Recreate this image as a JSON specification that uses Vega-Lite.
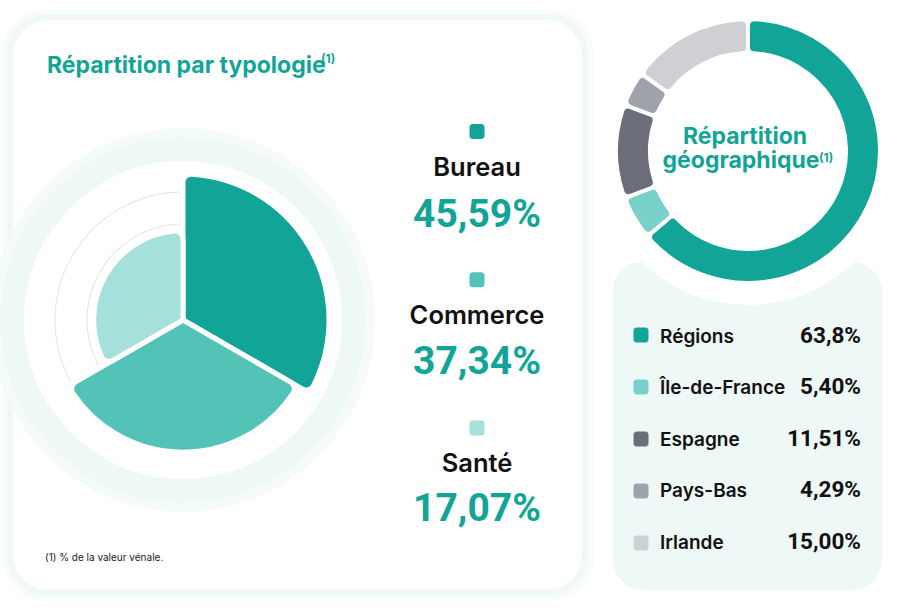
{
  "$schema": "https://vega.github.io/schema/vega-lite/v6.json",
  "width": 902,
  "height": 612,
  "padding": 0,
  "autosize": {"type": "none"},
  "background": "#ffffff",
  "config": {"view": {"stroke": null}, "font": "Inter"},
  "datasets": {
    "typologie": [
      {"type": "Bureau", "share": 45.59, "label": "45,59%"},
      {"type": "Commerce", "share": 37.34, "label": "37,34%"},
      {"type": "Santé", "share": 17.07, "label": "17,07%"}
    ],
    "geo": [
      {"region": "Régions", "share": 63.8, "label": "63,8%", "ord": 1},
      {"region": "Île-de-France", "share": 5.4, "label": "5,40%", "ord": 2},
      {"region": "Espagne", "share": 11.51, "label": "11,51%", "ord": 3},
      {"region": "Pays-Bas", "share": 4.29, "label": "4,29%", "ord": 4},
      {"region": "Irlande", "share": 15.0, "label": "15,00%", "ord": 5}
    ]
  },
  "layer": [
    {"data": {"values": [{}]}, "mark": {"type": "rect", "x": 2, "x2": 594, "y": 9, "y2": 601, "cornerRadius": 44, "fill": "#f8fcfc"}, "encoding": {}},
    {"data": {"values": [{}]}, "mark": {"type": "rect", "x": 7, "x2": 588, "y": 14, "y2": 596, "cornerRadius": 40, "fill": "#f0f9f7"}, "encoding": {}},
    {"data": {"values": [{}]}, "mark": {"type": "rect", "x": 13, "x2": 582, "y": 20, "y2": 590, "cornerRadius": 36, "fill": "#ffffff"}, "encoding": {}},
    {"data": {"values": [{}]}, "mark": {"type": "arc", "x": 183, "y": 320, "outerRadius": 192, "innerRadius": 183, "theta": 0, "theta2": 6.2832, "fill": "#f5fbfa"}, "encoding": {}},
    {"data": {"values": [{}]}, "mark": {"type": "arc", "x": 183, "y": 320, "outerRadius": 183, "innerRadius": 159, "theta": 0, "theta2": 6.2832, "fill": "#eef8f6"}, "encoding": {}},
    {"data": {"values": [{}]}, "mark": {"type": "arc", "x": 183, "y": 320, "outerRadius": 159, "innerRadius": 0, "theta": 0, "theta2": 6.2832, "fill": "#ffffff"}, "encoding": {}},
    {"data": {"values": [{}]}, "mark": {"type": "arc", "x": 183, "y": 320, "outerRadius": 128.5, "innerRadius": 127.5, "theta": 4.19, "theta2": 6.2832, "fill": "#e4e4e4"}, "encoding": {}},
    {"data": {"values": [{}]}, "mark": {"type": "arc", "x": 183, "y": 320, "outerRadius": 96.5, "innerRadius": 95.5, "theta": 4.19, "theta2": 6.2832, "fill": "#e4e4e4"}, "encoding": {}},
    {
      "data": {"name": "typologie"},
      "transform": [
        {"aggregate": [{"op": "count", "as": "n"}, {"op": "sum", "field": "share", "as": "share"}], "groupby": ["type"]},
        {"stack": "n", "groupby": [], "sort": [{"field": "type", "order": "ascending"}], "as": ["t0", "t1"]}
      ],
      "mark": {"type": "arc", "x": 183, "y": 320, "stroke": "#ffffff", "strokeWidth": 5, "cornerRadius": 8},
      "encoding": {
        "theta": {"field": "t0", "type": "quantitative", "stack": null, "scale": {"domain": [0, 3], "range": [0, 6.2832]}},
        "theta2": {"field": "t1"},
        "radius": {"field": "share", "type": "quantitative", "scale": {"type": "sqrt", "zero": true, "domain": [0, 45.59], "range": [0, 146]}},
        "color": {"field": "type", "type": "nominal", "scale": {"domain": ["Bureau", "Commerce", "Santé"], "range": ["#12a597", "#53c2b7", "#a5e0da"]}, "legend": null}
      }
    },
    {
      "data": {"name": "typologie"},
      "mark": {"type": "point", "filled": true, "opacity": 1, "size": 225, "x": 477, "shape": "M -0.6 -1 H 0.6 A 0.4 0.4 0 0 1 1 -0.6 V 0.6 A 0.4 0.4 0 0 1 0.6 1 H -0.6 A 0.4 0.4 0 0 1 -1 0.6 V -0.6 A 0.4 0.4 0 0 1 -0.6 -1 Z"},
      "encoding": {
        "y": {"field": "type", "type": "nominal", "scale": {"type": "point", "domain": ["Bureau", "Commerce", "Santé"], "range": [131.5, 428], "padding": 0}, "axis": null},
        "color": {"field": "type", "type": "nominal", "scale": {"domain": ["Bureau", "Commerce", "Santé"], "range": ["#12a597", "#53c2b7", "#a5e0da"]}, "legend": null}
      }
    },
    {
      "data": {"name": "typologie"},
      "mark": {"type": "text", "x": 477, "align": "center", "baseline": "alphabetic", "fontSize": 25.5, "fontWeight": 600, "color": "#111111", "letterSpacing": -0.3},
      "encoding": {
        "y": {"field": "type", "type": "nominal", "scale": {"type": "point", "domain": ["Bureau", "Commerce", "Santé"], "range": [176, 471.5], "padding": 0}, "axis": null},
        "text": {"field": "type"}
      }
    },
    {
      "data": {"name": "typologie"},
      "mark": {"type": "text", "x": 477, "align": "center", "baseline": "alphabetic", "font": "Roboto", "fontSize": 39, "fontWeight": "bold", "color": "#12a597", "letterSpacing": -0.2},
      "encoding": {
        "y": {"field": "type", "type": "nominal", "scale": {"type": "point", "domain": ["Bureau", "Commerce", "Santé"], "range": [227, 521], "padding": 0}, "axis": null},
        "text": {"field": "label"}
      }
    },
    {"data": {"values": [{}]}, "mark": {"type": "text", "text": "Répartition par typologie", "x": 47, "y": 73, "align": "left", "baseline": "alphabetic", "fontSize": 23, "fontWeight": "bold", "color": "#12a597", "letterSpacing": -1.25}, "encoding": {}},
    {"data": {"values": [{}]}, "mark": {"type": "text", "text": "(1)", "x": 321, "y": 63, "align": "left", "baseline": "alphabetic", "fontSize": 12, "fontWeight": "bold", "color": "#12a597", "letterSpacing": -0.3}, "encoding": {}},
    {"data": {"values": [{}]}, "mark": {"type": "rule", "x": 347, "x2": 581, "y": 70.5, "y2": 70.5, "stroke": "#12a597", "strokeWidth": 1}, "encoding": {}},
    {"data": {"values": [{}]}, "mark": {"type": "text", "text": "(1) % de la valeur vénale.", "x": 45, "y": 561, "align": "left", "baseline": "alphabetic", "fontSize": 10, "color": "#222222"}, "encoding": {}},
    {"data": {"values": [{}]}, "mark": {"type": "rect", "x": 613, "x2": 882, "y": 262, "y2": 590, "cornerRadius": 30, "fill": "#eef8f6"}, "encoding": {}},
    {"data": {"values": [{}]}, "mark": {"type": "arc", "x": 748, "y": 151, "outerRadius": 154, "innerRadius": 0, "theta": 0, "theta2": 6.2832, "fill": "#ffffff"}, "encoding": {}},
    {
      "data": {"name": "geo"},
      "mark": {"type": "arc", "x": 748, "y": 151, "outerRadius": 132, "innerRadius": 98, "stroke": "#ffffff", "strokeWidth": 4, "cornerRadius": 6},
      "encoding": {
        "theta": {"field": "share", "type": "quantitative", "stack": true},
        "order": {"field": "ord", "sort": "ascending"},
        "color": {"field": "region", "type": "nominal", "scale": {"domain": ["Régions", "Île-de-France", "Espagne", "Pays-Bas", "Irlande"], "range": ["#12a597", "#7ad1c9", "#6b6e78", "#9fa2aa", "#cfd0d4"]}, "legend": null}
      }
    },
    {"data": {"values": [{}]}, "mark": {"type": "text", "text": "Répartition", "x": 745, "y": 144, "align": "center", "baseline": "alphabetic", "fontSize": 23, "fontWeight": "bold", "color": "#12a597", "letterSpacing": -0.6}, "encoding": {}},
    {"data": {"values": [{}]}, "mark": {"type": "text", "text": "géographique", "x": 741, "y": 168, "align": "center", "baseline": "alphabetic", "fontSize": 23, "fontWeight": "bold", "color": "#12a597", "letterSpacing": -0.7}, "encoding": {}},
    {"data": {"values": [{}]}, "mark": {"type": "text", "text": "(1)", "x": 819, "y": 162, "align": "left", "baseline": "alphabetic", "fontSize": 12, "fontWeight": "bold", "color": "#12a597", "letterSpacing": -0.3}, "encoding": {}},
    {
      "data": {"name": "geo"},
      "mark": {"type": "point", "filled": true, "opacity": 1, "size": 225, "x": 641, "shape": "M -0.6 -1 H 0.6 A 0.4 0.4 0 0 1 1 -0.6 V 0.6 A 0.4 0.4 0 0 1 0.6 1 H -0.6 A 0.4 0.4 0 0 1 -1 0.6 V -0.6 A 0.4 0.4 0 0 1 -0.6 -1 Z"},
      "encoding": {
        "y": {"field": "region", "type": "nominal", "scale": {"type": "point", "domain": ["Régions", "Île-de-France", "Espagne", "Pays-Bas", "Irlande"], "range": [335, 543], "padding": 0}, "axis": null},
        "color": {"field": "region", "type": "nominal", "scale": {"domain": ["Régions", "Île-de-France", "Espagne", "Pays-Bas", "Irlande"], "range": ["#12a597", "#7ad1c9", "#6b6e78", "#9fa2aa", "#cfd0d4"]}, "legend": null}
      }
    },
    {
      "data": {"name": "geo"},
      "mark": {"type": "text", "x": 660, "align": "left", "baseline": "alphabetic", "fontSize": 19, "fontWeight": 600, "color": "#111111", "letterSpacing": -0.2},
      "encoding": {
        "y": {"field": "region", "type": "nominal", "scale": {"type": "point", "domain": ["Régions", "Île-de-France", "Espagne", "Pays-Bas", "Irlande"], "range": [342.5, 549], "padding": 0}, "axis": null},
        "text": {"field": "region"}
      }
    },
    {
      "data": {"name": "geo"},
      "mark": {"type": "text", "x": 861, "align": "right", "baseline": "alphabetic", "font": "Roboto", "fontSize": 22.5, "fontWeight": "bold", "color": "#111111", "letterSpacing": -0.4},
      "encoding": {
        "y": {"field": "region", "type": "nominal", "scale": {"type": "point", "domain": ["Régions", "Île-de-France", "Espagne", "Pays-Bas", "Irlande"], "range": [342.5, 549], "padding": 0}, "axis": null},
        "text": {"field": "label"}
      }
    }
  ],
  "resolve": {"scale": {"x": "independent", "y": "independent", "color": "independent", "theta": "independent", "radius": "independent", "size": "independent", "shape": "independent"}}
}
